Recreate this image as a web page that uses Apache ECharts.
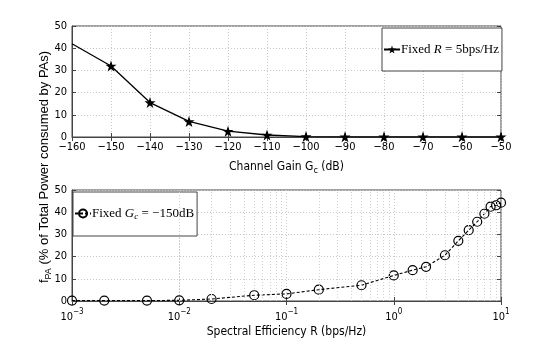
<!DOCTYPE html>
<html>
<head>
<meta charset="utf-8">
<script src="https://cdn.jsdelivr.net/npm/echarts@6/dist/echarts.min.js"></script>
<style>
  html, body { margin: 0; padding: 0; background: #fff; }
  #chart { width: 554px; height: 346px; }
</style>
</head>
<body>
<div id="chart"></div>
<script>
// 上图：信道增益 (dB) 与 PA 功耗占比
const gainDb = [-160, -150, -140, -130, -120, -110, -100, -90, -80, -70, -60, -50]
const fixedRate = [42, 32, 15.5, 7, 2.6, 0.9, 0.2, 0.1, 0.1, 0.1, 0.1, 0.1]
// 下图：频谱效率 (bps/Hz) 与 PA 功耗占比
const specEff = [0.001, 0.002, 0.005, 0.01, 0.02, 0.05, 0.1, 0.2, 0.5, 1, 1.5, 2, 3, 4, 5, 6, 7, 8, 9, 10]
const fixedGain = [0.2, 0.2, 0.2, 0.3, 0.9, 2.6, 3.2, 5.1, 7.1, 11.5, 13.9, 15.4, 20.6, 27.1, 31.9, 35.7, 39.3, 42.5, 43.1, 44.3]
// 刻度
const gainTicks = { min: -160, max: -50, step: 10 }
const pctTicks = { min: 0, max: 50, step: 10 }
const logRange = { min: 0.001, max: 10 }

const NARROW = '"DejaVu Sans Condensed", "Liberation Sans Narrow", "Liberation Sans", sans-serif'
const SERIF = '"Liberation Serif", "DejaVu Serif", serif'
const starPath = 'path://M50,0 L61.8,35.1 L98.1,35.1 L68.8,56.8 L79.4,91.9 L50,70.5 L20.6,91.9 L31.2,56.8 L1.9,35.1 L38.2,35.1 Z'

// 对数轴的次网格线 (2..9 x 10^k)
let minorLines = []
for (let k = -3; k < 1; k++) {
  for (let m = 2; m <= 9; m++) {
    minorLines.push({ xAxis: m * Math.pow(10, k) })
  }
}

const minus = v => String(v).replace('-', '\u2212')

const tickLabel = { color: '#000', fontFamily: NARROW, fontSize: 11, margin: 5 }
const dotted = { show: true, lineStyle: { color: '#c8c8c8', type: [1, 2], width: 1 } }
const frameLine = { show: true, onZero: false, lineStyle: { color: '#444', width: 1 } }
const inTick = { show: true, inside: true, length: 4, lineStyle: { color: '#444' } }

let chart = echarts.init(document.getElementById('chart'), null, { renderer: 'canvas' })

let option = {
  animation: false,
  backgroundColor: '#fff',
  grid: [
    { left: 72, right: 53, top: 26, height: 111, show: true, borderColor: '#444', borderWidth: 1 },
    { left: 72, right: 53, top: 190, height: 111, show: true, borderColor: '#444', borderWidth: 1 }
  ],
  xAxis: [
    {
      type: 'value', gridIndex: 0, min: gainTicks.min, max: gainTicks.max, interval: gainTicks.step,
      axisLine: frameLine, axisTick: inTick, splitLine: dotted,
      axisLabel: Object.assign({ formatter: minus }, tickLabel),
      name: '{n|Channel Gain G}{s|c}{n| (dB)}', nameLocation: 'middle', nameGap: 21,
      nameTextStyle: {
        rich: {
          n: { fontFamily: NARROW, fontSize: 12, color: '#000' },
          s: { fontFamily: NARROW, fontSize: 9, color: '#000', padding: [8, 0, 0, 0] }
        }
      }
    },
    {
      type: 'log', gridIndex: 1, logBase: 10, min: logRange.min, max: logRange.max,
      axisLine: frameLine, axisTick: inTick, splitLine: dotted,
      axisLabel: Object.assign({}, tickLabel, {
        formatter: v => '{b|10}{e|' + minus(Math.round(Math.log10(v))) + '}',
        rich: {
          b: { fontFamily: NARROW, fontSize: 11, color: '#000', padding: [6, 0, 0, 0] },
          e: { fontFamily: NARROW, fontSize: 8, color: '#000', padding: [0, 0, 6, 0] }
        }
      }),
      name: 'Spectral Efficiency R (bps/Hz)', nameLocation: 'middle', nameGap: 25,
      nameTextStyle: { fontFamily: NARROW, fontSize: 12, color: '#000' }
    },
    // 上边框刻度
    { type: 'value', gridIndex: 0, position: 'top', min: gainTicks.min, max: gainTicks.max, interval: gainTicks.step,
      axisLine: { show: false }, axisTick: inTick, axisLabel: { show: false }, splitLine: { show: false } },
    { type: 'log', gridIndex: 1, position: 'top', logBase: 10, min: logRange.min, max: logRange.max,
      axisLine: { show: false }, axisTick: inTick, axisLabel: { show: false }, splitLine: { show: false } }
  ],
  yAxis: [
    { type: 'value', gridIndex: 0, min: pctTicks.min, max: pctTicks.max, interval: pctTicks.step,
      axisLine: frameLine, axisTick: inTick, splitLine: dotted, axisLabel: tickLabel },
    { type: 'value', gridIndex: 1, min: pctTicks.min, max: pctTicks.max, interval: pctTicks.step,
      axisLine: frameLine, axisTick: inTick, splitLine: dotted, axisLabel: tickLabel },
    // 右边框刻度
    { type: 'value', gridIndex: 0, position: 'right', min: pctTicks.min, max: pctTicks.max, interval: pctTicks.step,
      axisLine: { show: false }, axisTick: inTick, axisLabel: { show: false }, splitLine: { show: false } },
    { type: 'value', gridIndex: 1, position: 'right', min: pctTicks.min, max: pctTicks.max, interval: pctTicks.step,
      axisLine: { show: false }, axisTick: inTick, axisLabel: { show: false }, splitLine: { show: false } }
  ],
  legend: [
    {
      data: ['fixedR'], left: 382, top: 28, width: 118, orient: 'vertical',
      padding: [15, 3, 15, 1], borderColor: '#444', borderWidth: 1, backgroundColor: '#fff',
      itemWidth: 16, itemHeight: 10, itemGap: 0,
      formatter: () => '{n|Fixed }{i|R}{n| = 5bps/Hz}',
      textStyle: {
        padding: [0, 0, 0, -4],
        rich: {
          n: { fontFamily: SERIF, fontSize: 13, color: '#000' },
          i: { fontFamily: SERIF, fontSize: 13, fontStyle: 'italic', color: '#000' }
        }
      }
    },
    {
      data: ['fixedG'], left: 73, top: 192, width: 120, orient: 'vertical',
      padding: [15, 3, 15, 1], borderColor: '#444', borderWidth: 1, backgroundColor: '#fff',
      itemWidth: 16, itemHeight: 10, itemGap: 0,
      formatter: () => '{n|Fixed }{i|G}{s|c}{n| = \u2212150dB}',
      textStyle: {
        padding: [0, 0, 0, -4],
        rich: {
          n: { fontFamily: SERIF, fontSize: 13, color: '#000' },
          i: { fontFamily: SERIF, fontSize: 13, fontStyle: 'italic', color: '#000' },
          s: { fontFamily: SERIF, fontSize: 9, fontStyle: 'italic', color: '#000', padding: [6, 0, 0, 0] }
        }
      }
    }
  ],
  graphic: [
    {
      type: 'text', x: 44, y: 167, rotation: Math.PI / 2,
      style: {
        text: '{a|f}{s|PA}{a| (% of Total Power consumed by PAs)}',
        align: 'center', verticalAlign: 'middle',
        rich: {
          a: { fontFamily: '"Liberation Sans", Arial, sans-serif', fontSize: 13, fill: '#000' },
          s: { fontFamily: '"Liberation Sans", Arial, sans-serif', fontSize: 9, fill: '#000', padding: [9, 0, 0, 0] }
        }
      }
    }
  ],
  series: [
    {
      name: 'fixedR', type: 'line', xAxisIndex: 0, yAxisIndex: 0,
      data: gainDb.map((g, i) => i === 0 ? { value: [g, fixedRate[i]], symbol: 'none' } : [g, fixedRate[i]]),
      symbol: starPath, symbolSize: 11, showAllSymbol: true,
      lineStyle: { color: '#000', width: 1.3 },
      itemStyle: { color: '#000' }
    },
    {
      name: 'fixedG', type: 'line', xAxisIndex: 1, yAxisIndex: 1,
      data: specEff.map((r, i) => [r, fixedGain[i]]),
      symbol: 'circle', symbolSize: 9, showAllSymbol: true,
      lineStyle: { color: '#000', width: 1.1, type: [3, 2] },
      itemStyle: { color: 'rgba(255,255,255,0)', borderColor: '#000', borderWidth: 1.2 },
      markLine: {
        silent: true, symbol: ['none', 'none'], label: { show: false },
        lineStyle: { color: '#d0d0d0', type: [1, 2], width: 1 },
        data: minorLines
      }
    }
  ]
}

chart.setOption(option)
</script>
</body>
</html>
